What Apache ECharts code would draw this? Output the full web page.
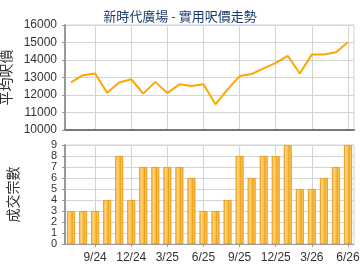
<!DOCTYPE html>
<html>
<head>
<meta charset="utf-8">
<script src="https://cdn.jsdelivr.net/npm/echarts@6/dist/echarts.min.js"></script>
<style>
html,body{margin:0;padding:0;background:#fff;}
#chart{width:360px;height:270px;}
</style>
</head>
<body>
<div id="chart"></div>
<script>
var months = ['7/24','8/24','9/24','10/24','11/24','12/24','1/25','2/25','3/25','4/25','5/25','6/25',
              '7/25','8/25','9/25','10/25','11/25','12/25','1/26','2/26','3/26','4/26','5/26','6/26'];
var avgPrice = [12720,13130,13230,12130,12710,12900,12080,12750,12110,12610,12510,12610,
                11470,12320,13080,13200,13520,13840,14240,13230,14320,14320,14440,15010];
var dealCount = [3,3,3,4,8,4,7,7,7,7,6,3,3,4,8,6,8,8,9,5,5,6,7,9];
var priceTicks = [10000,16000,1000];
var countTicks = [0,9,1];

function quarterly(i){ return i % 3 === 2; }

var chart = echarts.init(document.getElementById('chart'));
var labelFont = {fontFamily:'Liberation Sans, Arial', fontSize:12, color:'#333'};
// shiny orange bars: dark edges, light band left of centre
var barColor = new echarts.graphic.LinearGradient(0,0,1,0,[
  {offset:0, color:'#f0a318'},
  {offset:0.25, color:'#ffd486'},
  {offset:0.5, color:'#f8c04a'},
  {offset:0.65, color:'#eda11a'},
  {offset:0.8, color:'#fcc65a'},
  {offset:1, color:'#eaa020'}
]);

chart.setOption({
  animation:false,
  title:{
    text:'新時代廣場 - 實用呎價走勢',
    left:'center', top:5,
    textStyle:{fontFamily:'Noto Sans CJK TC', fontSize:13, fontWeight:'normal', color:'#1c3d6b'}
  },
  grid:[
    {left:65, right:6, top:25, height:105, containLabel:false, outerBoundsMode:'none',
     show:true, borderColor:'#d4d4d4', borderWidth:1},
    {left:65, right:6, top:145, height:99, containLabel:false, outerBoundsMode:'none',
     show:true, borderColor:'#d4d4d4', borderWidth:1}
  ],
  xAxis:[
    {type:'category', gridIndex:0, data:months,
     axisLine:{lineStyle:{color:'#777', width:2}},
     axisTick:{show:false},
     axisLabel:{show:false},
     splitLine:{show:true, interval:quarterly, alignWithLabel:true, lineStyle:{color:'#d4d4d4'}}},
    {type:'category', gridIndex:1, data:months,
     axisLine:{lineStyle:{color:'#999', width:1}},
     axisTick:{show:true, interval:quarterly, alignWithLabel:true, length:3, lineStyle:{color:'#999'}},
     axisLabel:Object.assign({interval:quarterly, margin:8}, labelFont),
     splitLine:{show:true, interval:quarterly, alignWithLabel:true, lineStyle:{color:'#d4d4d4'}}}
  ],
  yAxis:[
    {type:'value', gridIndex:0, min:priceTicks[0], max:priceTicks[1], interval:priceTicks[2],
     name:'平均呎價', nameLocation:'middle', nameGap:45,
     nameTextStyle:{fontFamily:'Noto Sans CJK TC', fontSize:14, color:'#333'},
     axisLine:{show:true, lineStyle:{color:'#999', width:2}},
     axisTick:{show:true, length:3, lineStyle:{color:'#999'}},
     axisLabel:Object.assign({margin:8, formatter:function(v){ return String(v); }}, labelFont),
     splitLine:{lineStyle:{color:'#d4d4d4'}}},
    {type:'value', gridIndex:1, min:countTicks[0], max:countTicks[1], interval:countTicks[2],
     name:'成交宗數', nameLocation:'middle', nameGap:45,
     nameTextStyle:{fontFamily:'Noto Sans CJK TC', fontSize:14, color:'#333'},
     axisLine:{show:true, lineStyle:{color:'#999', width:2}},
     axisTick:{show:true, length:3, lineStyle:{color:'#999'}},
     axisLabel:{margin:8, fontFamily:'Liberation Sans, Arial', fontSize:11, color:'#333',
                showMinLabel:true, showMaxLabel:true, hideOverlap:false},
     splitLine:{lineStyle:{color:'#d4d4d4'}}}
  ],
  series:[
    {type:'line', xAxisIndex:0, yAxisIndex:0, data:avgPrice,
     symbol:'none', lineStyle:{color:'#ffa500', width:2}},
    {type:'bar', xAxisIndex:1, yAxisIndex:1, data:dealCount, barWidth:8,
     itemStyle:{color:barColor, borderColor:'#e8980a', borderWidth:0.8}}
  ]
});
</script>
</body>
</html>
